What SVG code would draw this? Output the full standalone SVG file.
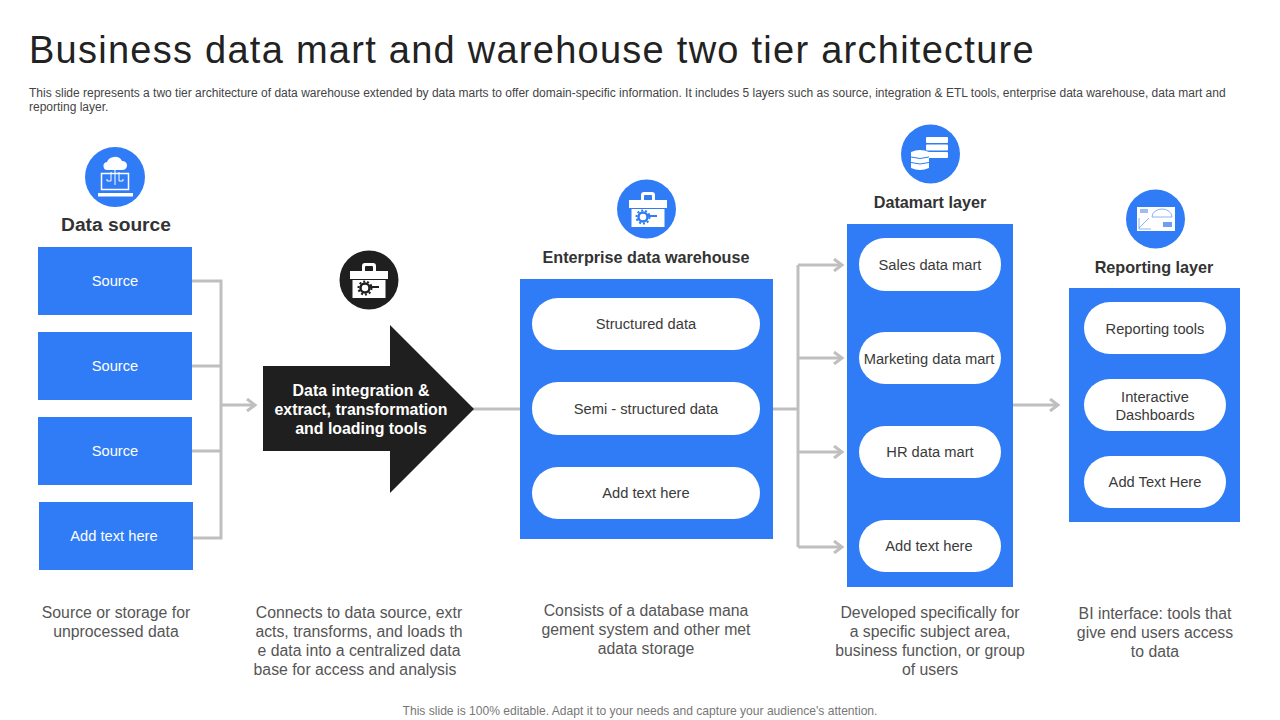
<svg xmlns="http://www.w3.org/2000/svg" width="1280" height="720" viewBox="0 0 1280 720">
<style>
text{font-family:"Liberation Sans",Arial,sans-serif;text-anchor:middle}
.b{fill:#2f7cf6}
.p{fill:#fff}
.lb{font-size:14.7px;fill:#3a3a3a}
.s{font-size:14.7px;fill:#fff}
.h{font-size:16.2px;font-weight:bold;fill:#333}
.d{font-size:15.8px;fill:#555}
.c{fill:none;stroke:#bfbfbf;stroke-width:3}
.i{fill:#fff}
.t{text-anchor:start;font-size:12px;fill:#444}
</style>
<defs>
<marker id="a" markerWidth="12" markerHeight="14" refX="9" refY="6" orient="auto" markerUnits="userSpaceOnUse" viewBox="0 0 12 12"><path d="M1 0L9 6L1 12" fill="none" stroke="#bfbfbf" stroke-width="3"/></marker>
<g id="kit">
<path d="M-7-8V-14Q-7-17-4-17H4Q7-17 7-14V-8H4V-13Q4-14 3-14H-3Q-4-14-4-13V-8Z" class="i"/>
<rect x="-19" y="-9" width="38" height="8" class="i"/>
<rect x="-16.500" y="0" width="33" height="18" class="i"/>
</g>
</defs>
<rect width="1280" height="720" fill="#fff"/>
<text id="title" x="29" y="63" style="text-anchor:start;font-size:38px;letter-spacing:1.26px" fill="#222">Business data mart and warehouse two tier architecture</text>
<text x="29" y="97" class="t">This slide represents a two tier architecture of data warehouse extended by data marts to offer domain-specific information. It includes 5 layers such as source, integration &amp; ETL tools, enterprise data warehouse, data mart and</text>
<text x="29" y="111" class="t">reporting layer.</text>

<g id="connectors">
<path class="c" d="M192 281H221V538H192M192 366H221M192 451H221"/>
<path class="c" d="M221 405H255" marker-end="url(#a)"/>
<path class="c" d="M470 409H520"/>
<path class="c" d="M773 409H798"/>
<path class="c" d="M798 265V547"/>
<path class="c" d="M798 265H842" marker-end="url(#a)"/>
<path class="c" d="M798 358H842" marker-end="url(#a)"/>
<path class="c" d="M798 452H842" marker-end="url(#a)"/>
<path class="c" d="M798 547H842" marker-end="url(#a)"/>
<path class="c" d="M1013 405H1058" marker-end="url(#a)"/>
</g>

<g id="data-source">
<circle cx="115" cy="177" r="30" class="b"/>
<path class="i" d="M108 170a4 4 0 0 1-1-8a8 7 0 0 1 15-1a4.500 4.500 0 0 1 1 9Z"/>
<rect x="101.500" y="173.500" width="27" height="16" fill="none" stroke="#fff" stroke-width="1.500"/>
<path d="M107 179V181H111V172M123 179V181H119V172M115 170V185" fill="none" stroke="#fff" stroke-width="1"/>
<rect x="98" y="193" width="35" height="3.500" class="i"/>
<text x="116" y="231" class="h" style="font-size:19.200px">Data source</text>
<rect x="38" y="247" width="154" height="68" class="b"/><text x="115" y="286" class="s">Source</text>
<rect x="38" y="332" width="154" height="68" class="b"/><text x="115" y="371" class="s">Source</text>
<rect x="38" y="417" width="154" height="68" class="b"/><text x="115" y="456" class="s">Source</text>
<rect x="39" y="502" width="154" height="68" class="b"/><text x="114" y="541" class="s">Add text here</text>
<text x="116" y="618" class="d">Source or storage for</text><text x="116" y="637" class="d">unprocessed data</text>
</g>

<g id="integration">
<circle cx="369" cy="280" r="29.500" fill="#1f1f1f"/>
<use href="#kit" x="369" y="280"/>
<circle cx="365" cy="288" r="4.500" fill="none" stroke="#1f1f1f" stroke-width="2.500"/>
<circle cx="365" cy="288" r="6.500" fill="none" stroke="#1f1f1f" stroke-width="2" stroke-dasharray="2 2"/>
<path d="M369 287H379" stroke="#1f1f1f" stroke-width="2"/>
<path d="M263 366H390V325L474 409L390 493V451H263Z" fill="#1f1f1f"/>
<text x="361" y="396" style="font-size:15.900px;font-weight:bold" fill="#fff">Data integration &amp;</text>
<text x="361" y="415" style="font-size:15.900px;font-weight:bold" fill="#fff">extract, transformation</text>
<text x="361" y="434" style="font-size:15.900px;font-weight:bold" fill="#fff">and loading tools</text>
<text x="359" y="618" class="d">Connects to data source, extr</text>
<text x="359" y="637" class="d">acts, transforms,  and loads th</text>
<text x="359" y="656" class="d">e data into a centralized data</text>
<text x="355" y="675" class="d">base for access and analysis</text>
</g>

<g id="warehouse">
<circle cx="646.500" cy="209" r="29.500" class="b"/>
<use href="#kit" x="648" y="209"/>
<circle cx="643" cy="217" r="4.500" fill="none" stroke="#2f7cf6" stroke-width="2.500"/>
<circle cx="643" cy="217" r="6.500" fill="none" stroke="#2f7cf6" stroke-width="2" stroke-dasharray="2 2"/>
<path d="M647 216H657" stroke="#2f7cf6" stroke-width="2"/>
<text x="646" y="263" class="h">Enterprise data warehouse</text>
<rect x="520" y="279" width="253" height="260" class="b"/>
<rect x="532" y="298" width="228" height="52" rx="26" class="p"/><text x="646" y="329" class="lb">Structured data</text>
<rect x="532" y="382" width="228" height="53" rx="26" class="p"/><text x="646" y="414" class="lb">Semi - structured data</text>
<rect x="532" y="467" width="228" height="52" rx="26" class="p"/><text x="646" y="498" class="lb">Add text here</text>
<text x="646" y="616" class="d">Consists of a database mana</text>
<text x="646" y="635" class="d">gement system and other met</text>
<text x="646" y="654" class="d">adata storage</text>
</g>

<g id="datamart">
<circle cx="930.500" cy="154" r="29.500" class="b"/>
<rect x="926" y="137" width="22" height="6" rx="1" class="i"/><rect x="926" y="144.500" width="22" height="6" rx="1" class="i"/><rect x="926" y="152" width="22" height="6" rx="1" class="i"/>
<path d="M911 152Q920 148 929 152V168Q920 172 911 168Z" class="i"/>
<path d="M911 157Q920 160 929 157M911 162.500Q920 165.500 929 162.500" fill="none" stroke="#2f7cf6"/>
<text x="930" y="208" class="h">Datamart layer</text>
<rect x="847" y="224" width="166" height="363" class="b"/>
<rect x="859" y="238" width="142" height="53" rx="26" class="p"/><text x="930" y="270" class="lb">Sales data mart</text>
<rect x="859" y="332" width="142" height="52" rx="26" class="p"/><text x="929" y="364" class="lb">Marketing data mart</text>
<rect x="859" y="426" width="142" height="52" rx="26" class="p"/><text x="930" y="457" class="lb">HR data mart</text>
<rect x="859" y="520" width="142" height="52" rx="26" class="p"/><text x="929" y="551" class="lb">Add text here</text>
<text x="930" y="618" class="d">Developed specifically for</text>
<text x="930" y="637" class="d">a specific subject area,</text>
<text x="930" y="656" class="d">business function,  or group</text>
<text x="930" y="675" class="d">of users</text>
</g>

<g id="reporting">
<circle cx="1155.500" cy="219" r="29.500" class="b"/>
<rect x="1137" y="207" width="38" height="24" class="i"/>
<rect x="1140" y="209" width="8" height="4" fill="#9dbcf0"/>
<path d="M1152 217a10 8 0 0 1 20 0Z" fill="none" stroke="#6f9ff0" stroke-width=".8"/>
<path d="M1139 228L1149 218M1139 218V229H1151" fill="none" stroke="#6f9ff0" stroke-width=".8"/>
<rect x="1163" y="222" width="9" height="5" fill="#6f9ff0"/>
<text x="1154" y="273" class="h">Reporting layer</text>
<rect x="1069" y="288" width="171" height="234" class="b"/>
<rect x="1084" y="302" width="142" height="52" rx="26" class="p"/><text x="1155" y="334" class="lb">Reporting tools</text>
<rect x="1084" y="379" width="142" height="52" rx="26" class="p"/><text x="1155" y="402" class="lb">Interactive</text><text x="1155" y="420" class="lb">Dashboards</text>
<rect x="1084" y="456" width="142" height="52" rx="26" class="p"/><text x="1155" y="487" class="lb">Add Text Here</text>
<text x="1155" y="619" class="d">BI interface: tools that</text>
<text x="1155" y="638" class="d">give end users access</text>
<text x="1155" y="657" class="d">to data</text>
</g>
<text x="640" y="715" style="font-size:12.100px" fill="#777">This slide is 100% editable. Adapt it to your needs and capture your audience's attention.</text>
</svg>
